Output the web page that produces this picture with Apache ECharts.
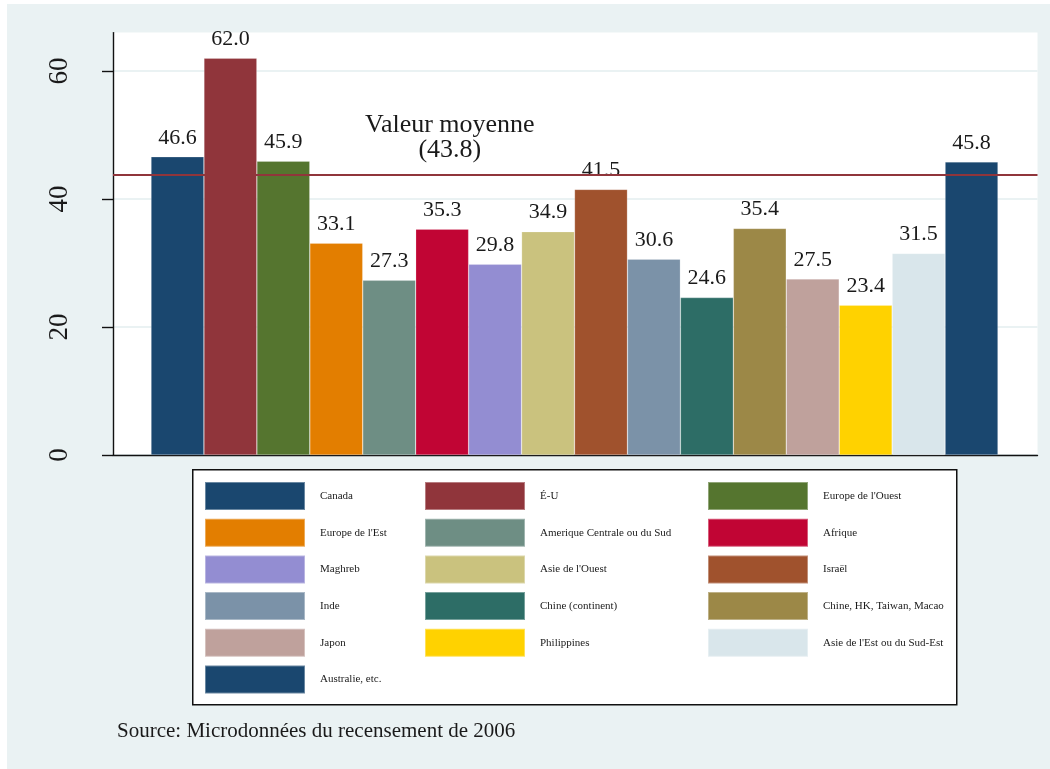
<!DOCTYPE html>
<html>
<head>
<meta charset="utf-8">
<script src="https://cdn.jsdelivr.net/npm/echarts@6/dist/echarts.min.js"></script>
<style>
  html, body { margin: 0; padding: 0; background: #fff; }
  #chart { width: 1050px; height: 769px; }
</style>
</head>
<body>
<div id="chart"></div>
<script>
// Groups of origin, in drawing order
const categories = [
  'Canada', 'É-U', "Europe de l'Ouest",
  "Europe de l'Est", 'Amerique Centrale ou du Sud', 'Afrique',
  'Maghreb', "Asie de l'Ouest", 'Israël',
  'Inde', 'Chine (continent)', 'Chine, HK, Taiwan, Macao',
  'Japon', 'Philippines', "Asie de l'Est ou du Sud-Est",
  'Australie, etc.'
];
const values = [46.6, 62.0, 45.9, 33.1, 27.3, 35.3, 29.8, 34.9, 41.5, 30.6, 24.6, 35.4, 27.5, 23.4, 31.5, 45.8];
const colors = [
  '#1a476f', '#90353b', '#55752f',
  '#e37e00', '#6e8e84', '#c10534',
  '#938dd2', '#cac27e', '#a0522d',
  '#7b92a8', '#2d6d66', '#9c8847',
  '#bfa19c', '#ffd200', '#d9e6eb',
  '#1a476f'
];
const meanValue = 43.8;
const yTicks = [0, 20, 40, 60];
const yMax = 66;
const sourceNote = 'Source: Microdonnées du recensement de 2006';

const SERIF = '"Liberation Serif", "DejaVu Serif", serif';
const INK = '#1a1a1a';

const chart = echarts.init(document.getElementById('chart'), null, { renderer: 'canvas' });

// one bar series per group so each gets its own legend entry
const barSeries = categories.map((name, i) => ({
  name: name,
  type: 'bar',
  xAxisIndex: 1,
  yAxisIndex: 1,
  barWidth: '100%',
  barGap: '-100%',
  itemStyle: { color: colors[i], borderColor: 'rgba(255,255,255,0.35)', borderWidth: 0.6 },
  label: {
    show: true,
    position: 'top',
    distance: 8,
    fontFamily: SERIF,
    fontSize: 22,
    color: INK,
    formatter: p => Number(p.value).toFixed(1)
  },
  data: categories.map((_, j) => (j === i ? values[i] : '-'))
}));

// legend laid out in three columns, filled row by row
const legendCols = [0, 1, 2].map(c => categories.filter((_, i) => i % 3 === c));
const legendLeft = [204, 424, 707];
const legends = legendCols.map((names, c) => ({
  orient: 'vertical',
  left: legendLeft[c],
  top: 481,
  padding: 0,
  itemWidth: 100,
  itemHeight: 28,
  itemGap: 6.7,
  icon: 'rect',
  selectedMode: false,
  data: names,
  textStyle: {
    fontFamily: SERIF,
    fontSize: 11,
    color: INK,
    padding: [0, 0, 0, 10]
  }
}));

const option = {
  backgroundColor: '#eaf2f3',
  animation: false,
  graphic: [
    { type: 'rect', left: 0, top: 0, shape: { width: 7, height: 769 }, style: { fill: '#fff' }, silent: true },
    { type: 'rect', left: 0, top: 0, shape: { width: 1050, height: 4 }, style: { fill: '#fff' }, silent: true },
    {
      type: 'rect', left: 192, top: 469, z: 1,
      shape: { width: 764, height: 235 },
      style: { fill: '#fff', stroke: '#111', lineWidth: 1.5 },
      silent: true
    },
    {
      type: 'text', left: 365, top: 112, z: 5,
      style: {
        text: 'Valeur moyenne\n(' + meanValue.toFixed(1) + ')',
        font: '26px ' + SERIF,
        fill: INK,
        textAlign: 'center',
        lineHeight: 25
      },
      silent: true
    },
    {
      type: 'text', left: 117, top: 721, z: 5,
      style: { text: sourceNote, font: '21px ' + SERIF, fill: INK },
      silent: true
    }
  ],
  legend: legends,
  grid: [
    // frame grid: white plot area, axes, gridlines, mean line
    { left: 113, right: 12.5, top: 455 - yMax * 6.4, bottom: 769 - 455, show: true, backgroundColor: '#fff', borderWidth: 0 },
    // bar grid
    { left: 151, right: 52, top: 455 - yMax * 6.4, bottom: 769 - 455 }
  ],
  xAxis: [
    {
      gridIndex: 0, type: 'value', min: 0, max: 1,
      axisLine: { show: true, lineStyle: { color: '#111', width: 1.4 } },
      axisTick: { show: false }, axisLabel: { show: false }, splitLine: { show: false }
    },
    {
      gridIndex: 1, type: 'category', data: categories, show: false
    }
  ],
  yAxis: [
    {
      gridIndex: 0, type: 'value', min: 0, max: yMax,
      axisLine: { show: true, lineStyle: { color: '#111', width: 1.4 } },
      axisTick: { show: true, length: 11, customValues: yTicks, lineStyle: { color: '#111', width: 1.4 } },
      axisLabel: {
        customValues: yTicks,
        rotate: 90,
        margin: 40,
        fontFamily: SERIF,
        fontSize: 27,
        color: INK
      },
      splitLine: { show: true, lineStyle: { color: '#eaf2f3', width: 2 } }
    },
    { gridIndex: 1, type: 'value', min: 0, max: yMax, show: false, splitLine: { show: false } }
  ],
  series: [
    {
      name: 'Valeur moyenne',
      type: 'line',
      xAxisIndex: 0,
      yAxisIndex: 0,
      data: [],
      markLine: {
        silent: true,
        symbol: 'none',
        label: { show: false },
        lineStyle: { color: '#90353b', width: 2, type: 'solid' },
        data: [{ yAxis: meanValue }]
      }
    },
    ...barSeries
  ]
};

chart.setOption(option);
</script>
</body>
</html>
